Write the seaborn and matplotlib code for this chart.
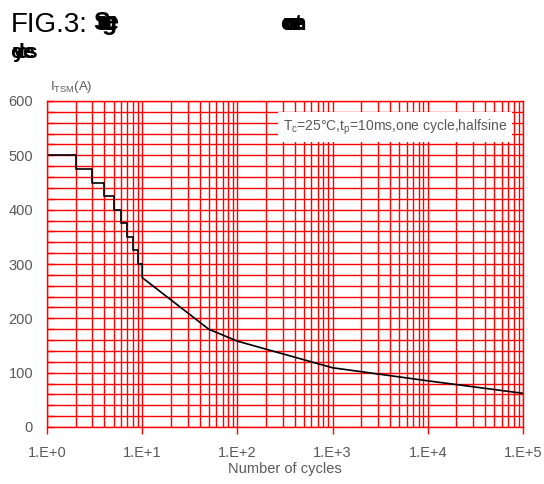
import matplotlib
matplotlib.use("Agg")
import matplotlib.pyplot as plt
import seaborn as sns
from matplotlib.ticker import FixedLocator, LogLocator, MultipleLocator, NullFormatter

sns.set_theme(style="white")
sans = ['Liberation Sans', 'DejaVu Sans']
plt.rcParams['font.family'] = sans
plt.rcParams['mathtext.fontset'] = 'custom'
plt.rcParams['mathtext.rm'] = 'Liberation Sans'
plt.rcParams['mathtext.it'] = 'Liberation Sans'

# surge current vs number of cycles
step_cycles = [1, 2, 3, 4, 5, 6, 7, 8, 9, 10]
step_current = [500, 475, 450, 425, 400, 375, 350, 325, 300, 300]
decay_cycles = [10, 10, 50, 100, 1000, 10000, 100000]
decay_current = [300, 275, 180, 158, 109, 85, 62]

x_ticks = [1, 10, 100, 1000, 10000, 100000]
x_tick_labels = ["1.E+0", "1.E+1", "1.E+2", "1.E+3", "1.E+4", "1.E+5"]
y_ticks = [0, 100, 200, 300, 400, 500, 600]

W, H = 544, 484
grey = "#595959"
red = "#ff0000"

fig = plt.figure(figsize=(W / 100, H / 100), dpi=100)
fig.patch.set_facecolor("white")
ax = fig.add_axes([47 / W, 1 - 427 / H, 476 / W, 326 / H])
ax.set_xscale("log")

sns.lineplot(x=step_cycles, y=step_current, drawstyle="steps-post",
             estimator=None, sort=False, color="black", lw=1.2, ax=ax)
sns.lineplot(x=decay_cycles, y=decay_current,
             estimator=None, sort=False, color="black", lw=1.2, ax=ax)

ax.set_xlim(1, 100000)
ax.set_ylim(0, 600)

# grid and ticks
ax.xaxis.set_major_locator(FixedLocator(x_ticks))
ax.set_xticklabels(x_tick_labels)
ax.xaxis.set_minor_locator(LogLocator(base=10, subs=range(2, 10)))
ax.xaxis.set_minor_formatter(NullFormatter())
ax.set_yticks(y_ticks)
ax.yaxis.set_minor_locator(MultipleLocator(20))
ax.grid(which="both", color=red, lw=1)
ax.set_axisbelow(True)
for s in ax.spines.values():
    s.set_color(red)
    s.set_linewidth(1)

ax.tick_params(axis="x", which="major", direction="out", length=5, width=1,
               color=red, labelcolor=grey, labelsize=10.5, pad=9, bottom=True)
ax.tick_params(axis="x", which="minor", length=0)
ax.tick_params(axis="y", which="both", direction="in", length=5, width=1,
               color=red, labelcolor=grey, labelsize=10.5, pad=10, left=True)

ax.set_xlabel("Number of cycles", color=grey, fontsize=10.5, labelpad=1)
ax.set_ylabel("")

ax.text((283 - 47) / 476, (427 - 127) / 326,
        "T$_c$=25°C,t$_p$=10ms,one cycle,halfsine",
        transform=ax.transAxes, ha="left", va="center", color=grey, fontsize=10,
        bbox=dict(facecolor="white", edgecolor="none", pad=3.5))

# header texts
fig.text(50 / W, 1 - 87 / H, "I$_{TSM}$(A)", color=grey, fontsize=9.5,
         ha="left", va="center")
fig.text(11 / W, 1 - 32 / H, "FIG.3:", fontsize=20, color="black",
         va="baseline")
fig.text(250 / W, 1 + 2 / H, "I$_{T(RMS)}$  )", color=grey, fontsize=10,
         ha="left", va="bottom")


def blob(word, x_px, y_px, step_px, size):
    for i, ch in enumerate(word):
        fig.text((x_px + i * step_px) / W, 1 - y_px / H, ch, fontsize=size,
                 color="black", va="baseline", fontweight="bold")


blob("Surge", 93, 30, 3, 18)
blob("current", 280, 30, 2.5, 16)
blob("cycles", 10, 58, 3, 15)

fig.savefig("out.png", dpi=100, facecolor="white")
